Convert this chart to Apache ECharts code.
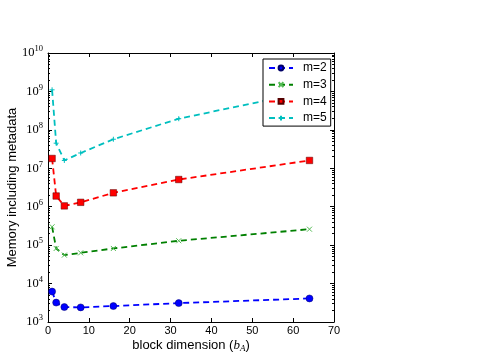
<!DOCTYPE html>
<html>
<head>
<meta charset="utf-8">
<script src="https://cdn.jsdelivr.net/npm/echarts@6/dist/echarts.min.js"></script>
<style>
  html, body { margin: 0; padding: 0; background: #fff; }
  #main { width: 478px; height: 358px; }
</style>
</head>
<body>
<div id="main"></div>
<script>
var blockDims = [1, 2, 4, 8, 16, 32, 64];
var m2 = [6200, 3200, 2450, 2400, 2600, 3100, 4100];
var m3 = [300000, 82000, 55000, 63000, 82000, 130000, 260000];
var m4 = [18000000, 1900000, 1050000, 1300000, 2300000, 5100000, 16000000];
var m5 = [1100000000, 45000000, 16000000, 25000000, 57000000, 195000000, 1000000000];
var xTicks = [0, 10, 20, 30, 40, 50, 60, 70];

function pairs(ys) {
  return blockDims.map(function (x, i) { return [x, ys[i]]; });
}

// minor ticks at 2..9 of each decade
var minorTicks = [];
for (var e = 3; e < 10; e++) {
  for (var k = 2; k <= 9; k++) minorTicks.push(k * Math.pow(10, e));
}

var myChart = echarts.init(document.getElementById('main'));

var supRich = {
  b: { fontFamily: 'Liberation Serif', fontSize: 12.5, color: '#000' },
  s: { fontFamily: 'Liberation Serif', fontSize: 8.5, color: '#000', verticalAlign: 'bottom', padding: [0, 0, 8, 0] }
};

function yAx(pos, minor, labels) {
  return {
    type: 'log',
    position: pos,
    min: 1000,
    max: 1e10,
    logBase: 10,
    axisLine: { show: !minor, lineStyle: { color: '#000', width: 1 } },
    axisTick: minor ?
      { show: true, inside: true, length: 2, customValues: minorTicks, lineStyle: { color: '#000' } } :
      { show: true, inside: true, length: 4, lineStyle: { color: '#000' } },
    axisLabel: labels ? {
      show: true,
      margin: 5,
      formatter: function (v) {
        return '{b|10}{s|' + Math.round(Math.log10(v)) + '}';
      },
      rich: supRich
    } : { show: false },
    splitLine: { show: false },
    name: labels ? 'Memory including metadata' : '',
    nameLocation: 'middle',
    nameRotate: 90,
    nameGap: 29,
    nameMoveOverlap: false,
    nameTextStyle: { fontFamily: 'Liberation Sans', fontSize: 13, color: '#000' }
  };
}

var dash = [6, 4];

var option = {
  animation: false,
  backgroundColor: '#fff',
  grid: { left: 48, top: 53, right: 144, bottom: 36, outerBoundsMode: 'none' },
  legend: {
    orient: 'vertical',
    left: 263,
    top: 59,
    backgroundColor: '#fff',
    borderColor: '#000',
    borderWidth: 1,
    borderRadius: 0,
    padding: [3, 4, 2, 5],
    itemWidth: 24,
    itemHeight: 6,
    itemGap: 4.7,
    textStyle: { fontFamily: 'Liberation Sans', fontSize: 12, lineHeight: 12, color: '#000', padding: [0, 0, 0, 5] },
    data: ['m=2', 'm=3', 'm=4', 'm=5']
  },
  xAxis: [{
    type: 'value',
    position: 'bottom',
    min: 0,
    max: 70,
    interval: 10,
    axisLine: { lineStyle: { color: '#000' } },
    axisTick: { inside: true, length: 4, lineStyle: { color: '#000' } },
    axisLabel: {
      margin: 3,
      fontFamily: 'Liberation Sans', fontSize: 11, color: '#000',
      customValues: xTicks
    },
    splitLine: { show: false },
    name: '{n|block dimension (}{i|b}{sub|A}{n|)}',
    nameLocation: 'middle',
    nameGap: 16,
    nameMoveOverlap: false,
    nameTextStyle: {
      rich: {
        n: { fontFamily: 'Liberation Sans', fontSize: 13, color: '#000' },
        i: { fontFamily: 'Liberation Serif', fontStyle: 'italic', fontSize: 13, color: '#000' },
        sub: { fontFamily: 'Liberation Serif', fontStyle: 'italic', fontSize: 9, color: '#000', verticalAlign: 'top', padding: [6, 0, 0, 0] }
      }
    }
  }, {
    type: 'value',
    position: 'top',
    min: 0,
    max: 70,
    interval: 10,
    axisLine: { lineStyle: { color: '#000' } },
    axisTick: { inside: true, length: 4, lineStyle: { color: '#000' } },
    axisLabel: { show: false },
    splitLine: { show: false }
  }],
  yAxis: [
    yAx('left', false, true),
    yAx('left', true, false),
    yAx('right', false, false),
    yAx('right', true, false)
  ],
  series: [{
    name: 'm=2',
    type: 'line',
    data: pairs(m2),
    symbol: 'circle',
    symbolSize: 7,
    itemStyle: { color: '#0000ff', borderColor: '#000066', borderWidth: 0.5 },
    lineStyle: { color: '#0000ff', width: 1.8, type: dash }
  }, {
    name: 'm=3',
    type: 'line',
    data: pairs(m3),
    symbol: 'path://M0,0L10,10M10,0L0,10',
    symbolSize: 5,
    itemStyle: { color: '#008000', borderColor: '#55bb55', borderWidth: 1 },
    lineStyle: { color: '#008000', width: 1.8, type: dash }
  }, {
    name: 'm=4',
    type: 'line',
    data: pairs(m4),
    symbol: 'rect',
    symbolSize: 6.5,
    itemStyle: { color: '#ff0000', borderColor: '#550000', borderWidth: 0.5 },
    lineStyle: { color: '#ff0000', width: 1.8, type: dash }
  }, {
    name: 'm=5',
    type: 'line',
    data: pairs(m5),
    symbol: 'path://M5,0L5,10M0,5L10,5',
    symbolSize: 5,
    itemStyle: { color: '#00bfbf', borderColor: '#00bfbf', borderWidth: 1 },
    lineStyle: { color: '#00bfbf', width: 1.8, type: dash }
  }]
};

myChart.setOption(option);
</script>
</body>
</html>
